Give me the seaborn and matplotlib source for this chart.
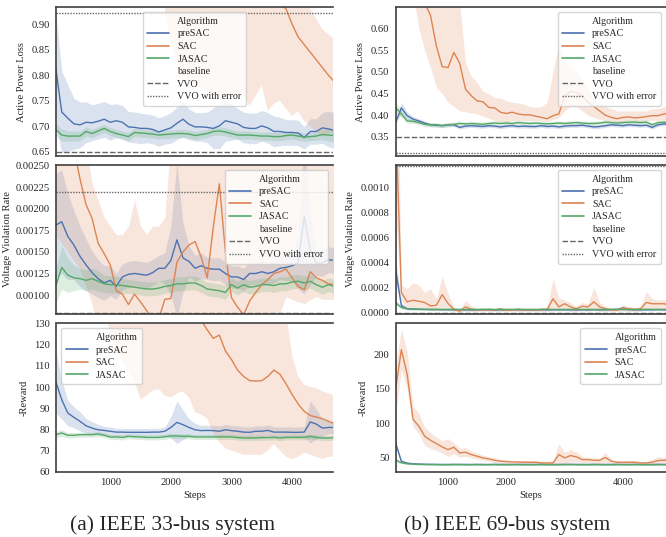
import numpy as np
import seaborn as sns
import matplotlib
matplotlib.use("Agg")
import matplotlib.pyplot as plt
from matplotlib.lines import Line2D
from matplotlib.ticker import MultipleLocator

# evaluation steps (every 100 env steps)
steps = [100, 200, 300, 400, 500, 600, 700, 800, 900, 1000, 1100, 1200,
         1300, 1400, 1500, 1600, 1700, 1800, 1900, 2000, 2100, 2200, 2300, 2400,
         2500, 2600, 2700, 2800, 2900, 3000, 3100, 3200, 3300, 3400, 3500, 3600,
         3700, 3800, 3900, 4000, 4100, 4200, 4300, 4400, 4500, 4600, 4700, 4800]

# ---------------- IEEE 33-bus ----------------
loss33_presac = [0.815, 0.728, 0.716, 0.705, 0.703, 0.708, 0.707, 0.710, 0.714, 0.708, 0.711, 0.708,
                 0.699, 0.698, 0.696, 0.696, 0.694, 0.689, 0.693, 0.697, 0.706, 0.714, 0.704, 0.699,
                 0.699, 0.698, 0.696, 0.701, 0.711, 0.708, 0.705, 0.698, 0.696, 0.696, 0.701, 0.697,
                 0.690, 0.690, 0.688, 0.688, 0.687, 0.678, 0.690, 0.690, 0.697, 0.695, 0.692, 0.692]
loss33_presac_err = [0.11, 0.08, 0.065, 0.05, 0.045, 0.04, 0.035, 0.035, 0.035, 0.035, 0.033, 0.033,
                     0.03, 0.03, 0.03, 0.028, 0.028, 0.028, 0.028, 0.03, 0.032, 0.035, 0.03, 0.028,
                     0.028, 0.03, 0.04, 0.045, 0.04, 0.035, 0.03, 0.03, 0.03, 0.03, 0.03, 0.03,
                     0.03, 0.028, 0.025, 0.025, 0.025, 0.022, 0.025, 0.025, 0.03, 0.035, 0.035, 0.035]
loss33_sac = [1.60, 1.55, 1.50, 1.46, 1.42, 1.38, 1.35, 1.32, 1.30, 1.27, 1.25, 1.22,
              1.20, 1.18, 1.16, 1.14, 1.12, 1.10, 1.09, 1.08, 1.07, 1.06, 1.05, 1.04,
              1.03, 1.02, 1.01, 1.00, 0.99, 0.99, 0.98, 0.98, 0.97, 0.97, 0.96, 0.96,
              0.95, 0.94, 0.93, 0.90, 0.875, 0.86, 0.845, 0.83, 0.815, 0.80, 0.787, 0.78]
loss33_sac_lo = [1.0, 1.0, 1.0, 1.0, 1.0, 1.0, 1.0, 1.0, 1.0, 1.0, 1.0, 1.0,
                 1.0, 1.0, 1.0, 1.0, 1.0, 1.0, 0.93, 0.86, 0.83, 0.80, 0.79, 0.78,
                 0.775, 0.77, 0.765, 0.76, 0.745, 0.755, 0.76, 0.765, 0.74, 0.76, 0.78, 0.73,
                 0.745, 0.75, 0.735, 0.72, 0.73, 0.71, 0.70, 0.69, 0.68, 0.685, 0.69, 0.69]
loss33_sac_hi = [2.0, 2.0, 2.0, 2.0, 2.0, 2.0, 2.0, 2.0, 2.0, 2.0, 2.0, 2.0,
                 2.0, 2.0, 2.0, 2.0, 2.0, 2.0, 2.0, 2.0, 2.0, 2.0, 2.0, 2.0,
                 2.0, 2.0, 2.0, 2.0, 2.0, 2.0, 2.0, 2.0, 2.0, 2.0, 2.0, 2.0,
                 2.0, 2.0, 2.0, 2.0, 2.0, 2.0, 0.93, 0.91, 0.89, 0.88, 0.87, 0.87]
loss33_jasac = [0.694, 0.683, 0.681, 0.681, 0.681, 0.690, 0.686, 0.691, 0.696, 0.690, 0.686, 0.683,
                0.680, 0.688, 0.687, 0.686, 0.685, 0.683, 0.684, 0.685, 0.686, 0.686, 0.685, 0.682,
                0.684, 0.686, 0.690, 0.691, 0.689, 0.686, 0.683, 0.683, 0.683, 0.682, 0.681, 0.681,
                0.680, 0.680, 0.682, 0.683, 0.681, 0.679, 0.680, 0.681, 0.684, 0.683, 0.682, 0.682]
loss33_jasac_err = [0.012, 0.012, 0.010, 0.010, 0.009, 0.009, 0.008, 0.008, 0.008, 0.008, 0.008, 0.008,
                    0.008, 0.008, 0.008, 0.008, 0.008, 0.008, 0.008, 0.008, 0.008, 0.008, 0.008, 0.008,
                    0.008, 0.008, 0.008, 0.008, 0.008, 0.008, 0.008, 0.008, 0.008, 0.008, 0.008, 0.008,
                    0.008, 0.008, 0.008, 0.008, 0.008, 0.008, 0.008, 0.008, 0.010, 0.012, 0.012, 0.012]
loss33_vvo = 0.65
loss33_vvo_err = 0.922

vvr33_presac = [0.00181, 0.00185, 0.00168, 0.00158, 0.00145, 0.00135, 0.00126, 0.00119, 0.00114, 0.00117, 0.00110, 0.00121,
                0.00124, 0.00125, 0.00124, 0.00123, 0.00126, 0.00131, 0.00131, 0.00140, 0.00164, 0.00143, 0.00139, 0.00131,
                0.00134, 0.00131, 0.00130, 0.00130, 0.00125, 0.00121, 0.00121, 0.00118, 0.00125, 0.00125, 0.00127, 0.00125,
                0.00127, 0.00131, 0.00132, 0.00134, 0.00137, 0.00191, 0.00152, 0.00137, 0.00137, 0.00141, 0.00140, 0.00140]
vvr33_presac_err = [0.00060, 0.00060, 0.00050, 0.00040, 0.00035, 0.00030, 0.00025, 0.00022, 0.00020, 0.00018, 0.00015, 0.00015,
                    0.00015, 0.00015, 0.00015, 0.00015, 0.00015, 0.00015, 0.00018, 0.00040, 0.00090, 0.00040, 0.00018, 0.00015,
                    0.00015, 0.00013, 0.00013, 0.00013, 0.00013, 0.00013, 0.00013, 0.00013, 0.00013, 0.00013, 0.00013, 0.00013,
                    0.00013, 0.00013, 0.00015, 0.00018, 0.00030, 0.00090, 0.00040, 0.00015, 0.00015, 0.00015, 0.00015, 0.00015]
vvr33_sac = [0.00400, 0.00340, 0.00300, 0.00270, 0.00235, 0.00205, 0.00189, 0.00160, 0.00148, 0.00135, 0.00105, 0.00101,
             0.00089, 0.00101, 0.00092, 0.00082, 0.00070, 0.00072, 0.00095, 0.00096, 0.00138, 0.00150, 0.00158, 0.00162,
             0.00144, 0.00120, 0.00179, 0.00229, 0.00150, 0.00097, 0.00086, 0.00077, 0.00093, 0.00103, 0.00112, 0.00118,
             0.00125, 0.00127, 0.00130, 0.00120, 0.00110, 0.00106, 0.00127, 0.00120, 0.00117, 0.00113, 0.00112, 0.00112]
vvr33_sac_lo = [0.00170, 0.00160, 0.00150, 0.00140, 0.00130, 0.00110, 0.00090, 0.00050, 0.00050, 0.00050, 0.00050, 0.00050,
                0.00050, 0.00050, 0.00050, 0.00050, 0.00050, 0.00050, 0.00050, 0.00050, 0.00050, 0.00050, 0.00050, 0.00050,
                0.00050, 0.00050, 0.00050, 0.00050, 0.00050, 0.00050, 0.00050, 0.00050, 0.00060, 0.00070, 0.00080, 0.00080,
                0.00080, 0.00080, 0.00098, 0.00095, 0.00092, 0.00090, 0.00095, 0.00098, 0.00095, 0.00095, 0.00095, 0.00095]
vvr33_sac_hi = [0.00600, 0.00600, 0.00600, 0.00600, 0.00300, 0.00270, 0.00230, 0.00210, 0.00190, 0.00180, 0.00170, 0.00170,
                0.00180, 0.00210, 0.00180, 0.00170, 0.00180, 0.00180, 0.00190, 0.00280, 0.00320, 0.00320, 0.00320, 0.00320,
                0.00320, 0.00320, 0.00320, 0.00320, 0.00320, 0.00280, 0.00280, 0.00280, 0.00280, 0.00280, 0.00280, 0.00280,
                0.00280, 0.00280, 0.00280, 0.00280, 0.00280, 0.00280, 0.00280, 0.00280, 0.00280, 0.00280, 0.00280, 0.00280]
vvr33_jasac = [0.00110, 0.00132, 0.00123, 0.00120, 0.00119, 0.00117, 0.00119, 0.00116, 0.00113, 0.00112, 0.00112, 0.00111,
               0.00110, 0.00109, 0.00108, 0.00107, 0.00107, 0.00108, 0.00110, 0.00111, 0.00113, 0.00113, 0.00114, 0.00114,
               0.00111, 0.00107, 0.00106, 0.00105, 0.00103, 0.00112, 0.00108, 0.00112, 0.00109, 0.00110, 0.00112, 0.00112,
               0.00111, 0.00113, 0.00113, 0.00115, 0.00116, 0.00114, 0.00116, 0.00112, 0.00109, 0.00112, 0.00110, 0.00110]
vvr33_jasac_err = [0.00020, 0.00025, 0.00020, 0.00015, 0.00012, 0.00012, 0.00012, 0.00012, 0.00010, 0.00010, 0.00010, 0.00009,
                   0.00008, 0.00008, 0.00008, 0.00008, 0.00008, 0.00008, 0.00008, 0.00008, 0.00008, 0.00008, 0.00008, 0.00008,
                   0.00008, 0.00008, 0.00008, 0.00008, 0.00008, 0.00008, 0.00008, 0.00008, 0.00008, 0.00008, 0.00008, 0.00008,
                   0.00008, 0.00008, 0.00008, 0.00008, 0.00008, 0.00008, 0.00008, 0.00008, 0.00008, 0.00008, 0.00008, 0.00008]
vvr33_vvo = 0.00079
vvr33_vvo_err = 0.0022

rew33_presac = [102.6, 94.0, 87.7, 85.7, 83.8, 81.7, 80.6, 79.8, 79.5, 79.1, 78.7, 78.7,
                78.6, 78.6, 78.6, 78.6, 78.7, 78.7, 79.1, 80.9, 83.3, 82.2, 80.9, 79.8,
                79.4, 79.5, 79.4, 79.1, 79.8, 79.4, 79.1, 78.7, 78.6, 79.1, 79.1, 79.5,
                78.7, 78.7, 78.7, 78.6, 78.6, 78.7, 83.5, 82.5, 80.6, 80.9, 80.9, 80.9]
rew33_presac_err = [15, 9, 6, 5, 4.5, 3.5, 3, 2.5, 2, 2, 1.8, 1.8,
                    1.8, 1.8, 1.8, 1.8, 1.8, 1.8, 2, 5, 10, 7, 4, 3,
                    2.5, 2.5, 2.5, 2.5, 2.5, 2.5, 2.5, 2.5, 2.5, 2.5, 2.5, 2.5,
                    2.5, 2.5, 2.5, 2.5, 2.5, 2.5, 10, 7, 4, 3, 3, 3]
rew33_sac = [300, 290, 280, 270, 262, 255, 248, 240, 232, 225, 218, 210,
             202, 195, 188, 180, 172, 165, 158, 152, 146, 141, 137, 134,
             131.5, 127, 123, 124.5, 117, 113, 108, 105, 103, 102.8, 103, 105,
             108, 106, 101.5, 96.5, 92, 88.5, 86.5, 85.8, 85, 83.8, 82.6, 82]
rew33_sac_lo = [200, 200, 200, 200, 200, 200, 200, 200, 140, 125, 118, 112,
                107, 103, 94, 96, 98.5, 99, 96, 95, 97, 98, 95, 88,
                87, 85, 78, 74, 71, 70, 69, 68, 68, 68, 68, 70,
                73, 70, 67, 66, 67, 69, 68, 67, 66, 67, 67, 67]
rew33_sac_hi = [400, 400, 400, 400, 400, 400, 400, 400, 400, 400, 400, 400,
                400, 400, 400, 400, 400, 400, 400, 400, 400, 400, 400, 400,
                400, 400, 400, 400, 400, 400, 400, 400, 400, 400, 400, 400,
                400, 400, 135, 115, 105, 101, 100, 99.5, 98, 97, 96, 96]
rew33_jasac = [77.5, 78.3, 77.2, 77.2, 77.5, 77.5, 77.5, 77.8, 77.2, 76.4, 76.4, 76.2,
               76.7, 76.5, 76.4, 76.2, 76.2, 76.2, 76.5, 76.9, 76.9, 76.7, 76.7, 76.4,
               76.4, 76.4, 76.4, 76.4, 76.5, 76.4, 76.1, 75.9, 75.9, 75.9, 76.1, 76.1,
               76.2, 75.9, 76.2, 76.2, 76.2, 76.2, 76.7, 76.2, 75.9, 75.9, 76.2, 76.2]
rew33_jasac_err = [1.5, 1.5, 1.3, 1.2, 1.2, 1.2, 1.2, 1.2, 1.2, 1.2, 1.2, 1.2,
                   1.2, 1.2, 1.2, 1.2, 1.2, 1.2, 1.2, 1.2, 1.2, 1.2, 1.2, 1.2,
                   1.2, 1.2, 1.2, 1.2, 1.2, 1.2, 1.2, 1.2, 1.2, 1.2, 1.2, 1.2,
                   1.2, 1.2, 1.2, 1.2, 1.2, 1.2, 1.2, 1.2, 1.2, 1.2, 1.2, 1.2]

# ---------------- IEEE 69-bus ----------------
loss69_presac = [0.383, 0.417, 0.399, 0.391, 0.387, 0.382, 0.378, 0.377, 0.376, 0.378, 0.378, 0.372,
                 0.375, 0.376, 0.375, 0.374, 0.376, 0.375, 0.373, 0.375, 0.376, 0.374, 0.375, 0.374,
                 0.374, 0.376, 0.374, 0.375, 0.373, 0.375, 0.376, 0.376, 0.377, 0.375, 0.373, 0.374,
                 0.376, 0.378, 0.377, 0.376, 0.378, 0.377, 0.376, 0.377, 0.372, 0.378, 0.380, 0.380]
loss69_presac_err = [0.004, 0.012, 0.008, 0.006, 0.005, 0.004, 0.004, 0.004, 0.004, 0.004, 0.004, 0.004,
                     0.004, 0.004, 0.004, 0.004, 0.004, 0.004, 0.004, 0.004, 0.004, 0.004, 0.004, 0.004,
                     0.004, 0.004, 0.004, 0.004, 0.004, 0.004, 0.004, 0.004, 0.004, 0.004, 0.004, 0.004,
                     0.004, 0.004, 0.004, 0.004, 0.004, 0.004, 0.004, 0.004, 0.004, 0.004, 0.004, 0.004]
loss69_sac = [0.95, 0.85, 0.78, 0.72, 0.68, 0.66, 0.63, 0.56, 0.512, 0.51, 0.545, 0.52,
              0.46, 0.445, 0.433, 0.431, 0.418, 0.417, 0.407, 0.404, 0.407, 0.403, 0.401, 0.401,
              0.398, 0.395, 0.392, 0.399, 0.403, 0.445, 0.455, 0.452, 0.445, 0.43, 0.42, 0.41,
              0.40, 0.395, 0.392, 0.395, 0.396, 0.394, 0.395, 0.397, 0.399, 0.399, 0.403, 0.405]
loss69_sac_lo = [0.85, 0.76, 0.70, 0.68, 0.60, 0.55, 0.51, 0.465, 0.45, 0.43, 0.42, 0.41,
                 0.408, 0.405, 0.403, 0.398, 0.393, 0.388, 0.385, 0.385, 0.387, 0.388, 0.388, 0.388,
                 0.388, 0.387, 0.385, 0.39, 0.395, 0.41, 0.42, 0.42, 0.41, 0.40, 0.395, 0.39,
                 0.388, 0.387, 0.385, 0.386, 0.387, 0.386, 0.386, 0.387, 0.388, 0.388, 0.39, 0.39]
loss69_sac_hi = [1.2, 1.2, 1.2, 1.2, 1.2, 1.2, 1.2, 1.2, 1.2, 1.2, 1.2, 0.66,
                 0.52, 0.49, 0.475, 0.455, 0.45, 0.44, 0.44, 0.433, 0.43, 0.428, 0.426, 0.42,
                 0.418, 0.42, 0.43, 0.50, 0.565, 0.53, 0.51, 0.50, 0.48, 0.46, 0.44, 0.43,
                 0.42, 0.415, 0.41, 0.41, 0.41, 0.41, 0.41, 0.41, 0.415, 0.415, 0.42, 0.42]
loss69_jasac = [0.418, 0.403, 0.387, 0.386, 0.383, 0.379, 0.378, 0.378, 0.376, 0.378, 0.379, 0.381,
                0.380, 0.381, 0.380, 0.379, 0.381, 0.382, 0.381, 0.382, 0.381, 0.383, 0.382, 0.381,
                0.382, 0.381, 0.380, 0.381, 0.382, 0.381, 0.382, 0.383, 0.382, 0.381, 0.381, 0.382,
                0.384, 0.383, 0.382, 0.383, 0.384, 0.384, 0.383, 0.384, 0.378, 0.383, 0.384, 0.384]
loss69_jasac_err = [0.012, 0.008, 0.006, 0.005, 0.005, 0.005, 0.005, 0.005, 0.005, 0.005, 0.005, 0.005,
                    0.005, 0.005, 0.005, 0.005, 0.005, 0.005, 0.005, 0.005, 0.005, 0.005, 0.005, 0.005,
                    0.005, 0.005, 0.005, 0.005, 0.005, 0.005, 0.005, 0.005, 0.005, 0.005, 0.005, 0.005,
                    0.005, 0.005, 0.005, 0.005, 0.005, 0.005, 0.005, 0.005, 0.005, 0.005, 0.005, 0.005]
loss69_vvo = 0.35
loss69_vvo_err = 0.3136

vvr69_presac = [0.00035, 0.000055, 0.00003, 0.000028, 0.000026, 0.000025, 0.000024, 0.000024, 0.000023, 0.000023, 0.000022, 0.000022,
                0.000022, 0.000021, 0.000022, 0.000023, 0.000022, 0.000021, 0.000022, 0.000022, 0.000023, 0.000022, 0.000022, 0.000021,
                0.000022, 0.000022, 0.000021, 0.000022, 0.000023, 0.000022, 0.000022, 0.000021, 0.000022, 0.000022, 0.000023, 0.000022,
                0.000022, 0.000023, 0.000025, 0.000035, 0.000024, 0.000022, 0.000022, 0.000022, 0.000022, 0.000023, 0.000022, 0.000022]
vvr69_presac_err = [0.0001, 0.00002, 0.00001, 0.000008, 0.000008, 0.000008, 0.000008, 0.000008, 0.000008, 0.000008, 0.000008, 0.000008,
                    0.000008, 0.000008, 0.000008, 0.000008, 0.000008, 0.000008, 0.000008, 0.000008, 0.000008, 0.000008, 0.000008, 0.000008,
                    0.000008, 0.000008, 0.000008, 0.000008, 0.000008, 0.000008, 0.000008, 0.000008, 0.000008, 0.000008, 0.000008, 0.000008,
                    0.000008, 0.000008, 0.00001, 0.00002, 0.00001, 0.000008, 0.000008, 0.000008, 0.000008, 0.000008, 0.000008, 0.000008]
vvr69_sac = [0.0016, 0.00016, 0.000085, 0.000098, 0.00009, 0.00008, 0.000053, 0.000058, 0.000143, 0.000072, 0.000027, 0.00001,
             0.000045, 0.000027, 0.000022, 0.00002, 0.000025, 0.00002, 0.00003, 0.000018, 0.00002, 0.000025, 0.00002, 0.000022,
             0.00002, 0.000025, 0.000025, 0.00011, 0.000045, 0.00007, 0.000045, 0.00003, 0.00005, 0.000045, 0.000085, 0.000045,
             0.00003, 0.00002, 0.00002, 0.000035, 0.00003, 0.000025, 0.00003, 0.00008, 0.00007, 0.00007, 0.00007, 0.00006]
vvr69_sac_lo = [0.0008, 0.0001, 0.00003, 0.00003, 0.00003, 0.00003, 0.00002, 0.00002, 0.00003, 0.00002, 0.00001, 0.0,
                0.00001, 0.00001, 0.00001, 0.00001, 0.00001, 0.00001, 0.00001, 0.00001, 0.00001, 0.00001, 0.00001, 0.00001,
                0.00001, 0.00001, 0.00001, 0.00002, 0.00001, 0.00002, 0.00001, 0.00001, 0.00002, 0.00001, 0.00002, 0.00001,
                0.00001, 0.00001, 0.00001, 0.00001, 0.00001, 0.00001, 0.00001, 0.00003, 0.00003, 0.00003, 0.00003, 0.00003]
vvr69_sac_hi = [0.003, 0.00022, 0.00019, 0.00024, 0.00022, 0.00016, 0.00019, 0.00011, 0.00029, 0.00015, 0.00004, 0.00002,
                0.0001, 0.00005, 0.00003, 0.00003, 0.00004, 0.00003, 0.00004, 0.00003, 0.00003, 0.00004, 0.00003, 0.00004,
                0.00003, 0.00004, 0.00004, 0.00027, 0.00012, 0.0001, 0.00008, 0.00005, 0.00008, 0.00007, 0.0002, 0.00008,
                0.00005, 0.00003, 0.00003, 0.00006, 0.00005, 0.00004, 0.00005, 0.00017, 0.00011, 0.0001, 0.0001, 0.0001]
vvr69_jasac = [0.00008, 0.00004, 0.00003, 0.000027, 0.000026, 0.000025, 0.000025, 0.000025, 0.000024, 0.000025, 0.000026, 0.000025,
               0.000025, 0.000024, 0.000025, 0.000026, 0.000025, 0.000025, 0.000024, 0.000025, 0.000025, 0.000026, 0.000025, 0.000024,
               0.000025, 0.000025, 0.000026, 0.000025, 0.000024, 0.000025, 0.000025, 0.000026, 0.000025, 0.000025, 0.000024, 0.000025,
               0.000025, 0.000026, 0.000025, 0.000025, 0.000024, 0.000025, 0.000025, 0.000026, 0.000025, 0.000025, 0.000025, 0.000025]
vvr69_jasac_err = [0.00002, 0.00001, 0.000008, 0.000006, 0.000006, 0.000006, 0.000006, 0.000006, 0.000006, 0.000006, 0.000006, 0.000006,
                   0.000006, 0.000006, 0.000006, 0.000006, 0.000006, 0.000006, 0.000006, 0.000006, 0.000006, 0.000006, 0.000006, 0.000006,
                   0.000006, 0.000006, 0.000006, 0.000006, 0.000006, 0.000006, 0.000006, 0.000006, 0.000006, 0.000006, 0.000006, 0.000006,
                   0.000006, 0.000006, 0.000006, 0.000006, 0.000006, 0.000006, 0.000006, 0.000006, 0.000006, 0.000006, 0.000006, 0.000006]
vvr69_vvo = 0.0
vvr69_vvo_err = 0.001175

rew69_presac = [72, 45, 42.5, 41.5, 41, 40.8, 40.7, 40.6, 40.5, 40.5, 40.6, 40.6,
                40.5, 40.5, 40.6, 40.5, 40.5, 40.6, 40.5, 40.5, 40.5, 40.6, 40.5, 40.5,
                40.5, 40.6, 40.5, 40.5, 40.5, 40.6, 40.7, 40.6, 40.5, 40.5, 40.6, 40.5,
                40.5, 40.5, 40.6, 40.5, 40.5, 40.6, 40.5, 40.5, 40.5, 40.6, 40.5, 40.5]
rew69_presac_err = [4, 2, 1.2, 1, 1, 1, 1, 1, 1, 1, 1, 1,
                    1, 1, 1, 1, 1, 1, 1, 1, 1, 1, 1, 1,
                    1, 1, 1, 1, 1, 1, 1, 1, 1, 1, 1, 1,
                    1, 1, 1, 1, 1, 1, 1, 1, 1, 1, 1, 1]
rew69_sac = [149, 207, 171, 106, 96, 81.5, 75.6, 70.8, 66, 62, 65.5, 57.3,
             58.2, 54.8, 52.4, 50, 48.5, 46.6, 45.2, 44.7, 44.2, 44.2, 43.7, 43.7,
             43.7, 42.7, 42.7, 42.7, 54.8, 50, 53.4, 51.5, 47.6, 47.6, 46.6, 46.6,
             50.5, 45.2, 43.7, 43.7, 43.7, 43.7, 42.7, 42.7, 43.7, 46.1, 46.6, 46.6]
rew69_sac_lo = [110, 178, 150, 95, 85, 68, 64, 61, 57, 52, 56, 51,
                52, 50, 48, 46, 45, 43, 42, 42, 41, 41, 41, 41,
                41, 40, 40, 40, 42, 42, 44, 44, 43, 43, 42, 42,
                43, 42, 41, 41, 41, 41, 40, 40, 40, 41, 41, 41]
rew69_sac_hi = [185, 237, 205, 125, 115, 95, 87, 80, 75, 78, 72, 64,
                65, 60, 57, 54, 52, 50, 48, 47, 46, 46, 46, 46,
                46, 45, 45, 46, 71, 58, 62, 59, 52, 51, 50, 50,
                58, 48, 46, 46, 46, 46, 45, 45, 48, 52, 51, 50]
rew69_jasac = [47, 43, 41.5, 41, 40.8, 40.5, 40.4, 40.3, 40.2, 40.2, 40.3, 40.3,
               40.2, 40.2, 40.3, 40.2, 40.2, 40.3, 40.2, 40.2, 40.2, 40.3, 40.2, 40.2,
               40.2, 40.3, 40.2, 40.2, 40.2, 40.3, 40.3, 40.2, 40.2, 40.2, 40.3, 40.2,
               40.2, 40.2, 40.3, 40.2, 40.2, 40.3, 40.2, 40.2, 40.2, 40.3, 40.2, 40.2]
rew69_jasac_err = [3, 1.5, 1, 1, 1, 1, 1, 1, 1, 1, 1, 1,
                   1, 1, 1, 1, 1, 1, 1, 1, 1, 1, 1, 1,
                   1, 1, 1, 1, 1, 1, 1, 1, 1, 1, 1, 1,
                   1, 1, 1, 1, 1, 1, 1, 1, 1, 1, 1, 1]

BLUE, ORANGE, GREEN = sns.color_palette("deep")[:3]
GRAY = "0.4"


def sym_band(ax, mean, err, color):
    m = np.array(mean)
    e = np.array(err)
    ax.fill_between(steps, m - e, m + e, color=color, alpha=0.2, lw=0)


def draw_panel(ax, presac, presac_err, sac, sac_lo, sac_hi, jasac, jasac_err):
    sym_band(ax, presac, presac_err, BLUE)
    ax.fill_between(steps, sac_lo, sac_hi, color=ORANGE, alpha=0.2, lw=0)
    sym_band(ax, jasac, jasac_err, GREEN)
    sns.lineplot(x=steps, y=presac, ax=ax, color=BLUE, lw=1.0, legend=False)
    sns.lineplot(x=steps, y=sac, ax=ax, color=ORANGE, lw=1.0, legend=False)
    sns.lineplot(x=steps, y=jasac, ax=ax, color=GREEN, lw=1.0, legend=False)


def add_baselines(ax, vvo, vvo_err):
    ax.axhline(vvo, color=GRAY, lw=1.0, dashes=(4, 1.5))
    ax.axhline(vvo_err, color=GRAY, lw=1.0, dashes=(1, 1))


def add_legend(ax, loc, baseline=True):
    blank = Line2D([], [], linestyle="none")
    handles = [blank,
               Line2D([], [], color=BLUE, lw=1.2),
               Line2D([], [], color=ORANGE, lw=1.2),
               Line2D([], [], color=GREEN, lw=1.2)]
    labels = ["Algorithm", "preSAC", "SAC", "JASAC"]
    if baseline:
        handles += [blank,
                    Line2D([], [], color=GRAY, lw=1.0, dashes=(4, 1.5)),
                    Line2D([], [], color=GRAY, lw=1.0, dashes=(1, 1))]
        labels += ["baseline", "VVO", "VVO with error"]
    ax.legend(handles, labels, loc=loc, fontsize=7.2, labelspacing=0.36,
              handlelength=2.2, borderpad=0.45, framealpha=0.8, edgecolor="0.8")


sns.set_theme(style="white")
plt.rcParams["font.family"] = ["Liberation Serif", "DejaVu Serif"]
plt.rcParams["axes.edgecolor"] = "0.25"
plt.rcParams["axes.linewidth"] = 1.2

fig = plt.figure(figsize=(6.66, 5.37), dpi=100)

W, H = 666.0, 537.0
rows = [(7.3, 156.0), (165.0, 314.0), (323.5, 471.7)]
cols = [(56.0, 333.0), (395.7, 666.0)]

axes = {}
for ci, (x0, x1) in enumerate(cols):
    for ri, (y0, y1) in enumerate(rows):
        ax = fig.add_axes([x0 / W, 1 - y1 / H, (x1 - x0) / W, (y1 - y0) / H])
        ax.spines["right"].set_visible(False)
        ax.tick_params(labelsize=7.6, length=0, pad=4.5)
        axes[(ri, ci)] = ax

# ---- left column: IEEE 33-bus
ax = axes[(0, 0)]
draw_panel(ax, loss33_presac, loss33_presac_err, loss33_sac, loss33_sac_lo, loss33_sac_hi,
           loss33_jasac, loss33_jasac_err)
add_baselines(ax, loss33_vvo, loss33_vvo_err)
ax.set_ylim(0.642, 0.933)
ax.yaxis.set_major_locator(MultipleLocator(0.05))
ax.set_ylabel("Active Power Loss", fontsize=7.6)
add_legend(ax, "upper center")

ax = axes[(1, 0)]
draw_panel(ax, vvr33_presac, vvr33_presac_err, vvr33_sac, vvr33_sac_lo, vvr33_sac_hi,
           vvr33_jasac, vvr33_jasac_err)
add_baselines(ax, vvr33_vvo, vvr33_vvo_err)
ax.set_ylim(0.00078, 0.002508)
ax.yaxis.set_major_locator(MultipleLocator(0.00025))
ax.set_ylabel("Voltage Violation Rate", fontsize=7.6, labelpad=2.5)
add_legend(ax, "upper right")

ax = axes[(2, 0)]
draw_panel(ax, rew33_presac, rew33_presac_err, rew33_sac, rew33_sac_lo, rew33_sac_hi,
           rew33_jasac, rew33_jasac_err)
ax.set_ylim(60, 130)
ax.yaxis.set_major_locator(MultipleLocator(10))
ax.set_ylabel("-Reward", fontsize=7.6)
add_legend(ax, "upper left", baseline=False)

# ---- right column: IEEE 69-bus
ax = axes[(0, 1)]
draw_panel(ax, loss69_presac, loss69_presac_err, loss69_sac, loss69_sac_lo, loss69_sac_hi,
           loss69_jasac, loss69_jasac_err)
add_baselines(ax, loss69_vvo, loss69_vvo_err)
ax.set_ylim(0.306, 0.649)
ax.yaxis.set_major_locator(MultipleLocator(0.05))
ax.set_ylabel("Active Power Loss", fontsize=7.6)
add_legend(ax, "upper right")

ax = axes[(1, 1)]
draw_panel(ax, vvr69_presac, vvr69_presac_err, vvr69_sac, vvr69_sac_lo, vvr69_sac_hi,
           vvr69_jasac, vvr69_jasac_err)
add_baselines(ax, vvr69_vvo, vvr69_vvo_err)
ax.set_ylim(-0.000012, 0.00118)
ax.yaxis.set_major_locator(MultipleLocator(0.0002))
ax.set_ylabel("Voltage Violation Rate", fontsize=7.6)
add_legend(ax, "upper right")

ax = axes[(2, 1)]
draw_panel(ax, rew69_presac, rew69_presac_err, rew69_sac, rew69_sac_lo, rew69_sac_hi,
           rew69_jasac, rew69_jasac_err)
ax.set_ylim(30, 245)
ax.yaxis.set_major_locator(MultipleLocator(50))
ax.set_ylabel("-Reward", fontsize=7.6)
add_legend(ax, "upper right", baseline=False)

# shared x handling
for (ri, ci), ax in axes.items():
    if ci == 0:
        ax.set_xlim(105, 4675)
    else:
        ax.set_xlim(103, 4737)
    ax.xaxis.set_major_locator(MultipleLocator(1000))
    if ri < 2:
        ax.set_xticklabels([])
        ax.set_xlabel("")
    else:
        ax.set_xlabel("Steps", fontsize=7.6, labelpad=3)

fig.text(173 / W, 1 - 525 / H, "(a) IEEE 33-bus system", ha="center", va="center", fontsize=15.5)
fig.text(507 / W, 1 - 525 / H, "(b) IEEE 69-bus system", ha="center", va="center", fontsize=15.5)

fig.savefig("out.png", dpi=100)
